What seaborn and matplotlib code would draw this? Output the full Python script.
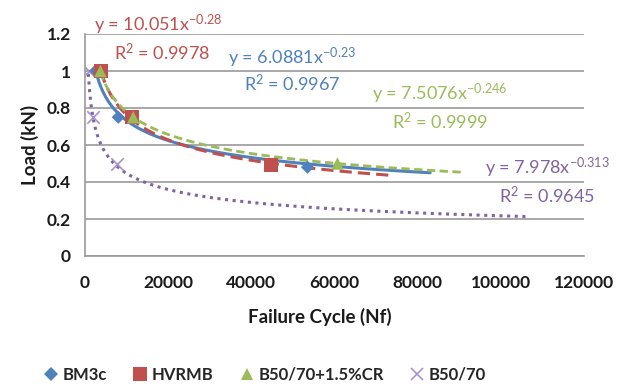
import numpy as np
import pandas as pd
import matplotlib
matplotlib.use("Agg")
import matplotlib.pyplot as plt
import seaborn as sns
from matplotlib.lines import Line2D

# ---- data ----
series = ["BM3c", "HVRMB", "B50/70+1.5%CR", "B50/70"]
bm3c_x = [2600, 8000, 53500]
bm3c_y = [1.0, 0.75, 0.48]
hvrmb_x = [3800, 11300, 44800]
hvrmb_y = [1.0, 0.75, 0.49]
cr_x = [3700, 11600, 60700]
cr_y = [1.0, 0.75, 0.50]
b50_x = [1000, 1900, 7700]
b50_y = [1.0, 0.75, 0.50]

# power trendlines y = a * x^b (coefficients shown on chart)
trend_a = [6.0881, 10.051, 7.5076, 7.978]
trend_b = [-0.23, -0.28, -0.246, -0.313]
trend_r2 = ["0.9967", "0.9978", "0.9999", "0.9645"]
trend_start = [2600, 3800, 3700, 800]
trend_end = [83000, 74000, 90800, 107000]

x_ticks = [0, 20000, 40000, 60000, 80000, 100000, 120000]
y_ticks = [0, 0.2, 0.4, 0.6, 0.8, 1.0, 1.2]

sns.set_theme(style="white")
plt.rcParams["font.family"] = ["Lato", "DejaVu Sans"]
plt.rcParams["mathtext.fontset"] = "custom"
plt.rcParams["mathtext.rm"] = "Lato"
plt.rcParams["mathtext.it"] = "Lato"
plt.rcParams["mathtext.bf"] = "Lato:bold"
plt.rcParams["mathtext.default"] = "regular"

colors = ["#4F81BD", "#C0504D", "#9BBB59", "#8064A2"]
marker_colors = ["#4F81BD", "#C0504D", "#9BBB59", "#A793CC"]
markers = ["D", "s", "^", "x"]
msizes = [45, 100, 80, 80]
styles = ["-", (0, (4, 2)), (0, (3, 1.6)), (0, (1, 1.5))]
widths = [2.2, 2.2, 2.0, 2.2]

fig = plt.figure(figsize=(6.18, 3.84), dpi=100)
ax = fig.add_axes([85/618, 1-256/384, (584-85)/618, (256-34)/384])

xs_list = [bm3c_x, hvrmb_x, cr_x, b50_x]
ys_list = [bm3c_y, hvrmb_y, cr_y, b50_y]

# trendlines
for i in range(4):
    xt = np.linspace(trend_start[i], trend_end[i], 300)
    yt = trend_a[i] * xt ** trend_b[i]
    sns.lineplot(x=xt, y=yt, ax=ax, color=colors[i], linewidth=widths[i],
                 linestyle=styles[i], zorder=3)

# points
for i in [3, 0, 1, 2]:
    df = pd.DataFrame({"x": xs_list[i], "y": ys_list[i]})
    if markers[i] == "x":
        sns.scatterplot(data=df, x="x", y="y", ax=ax, marker="x", s=msizes[i],
                        color=marker_colors[i], linewidth=1.2, zorder=4)
    else:
        sns.scatterplot(data=df, x="x", y="y", ax=ax, marker=markers[i], s=msizes[i],
                        color=marker_colors[i], edgecolor="none", zorder=4)

ax.set_xlim(0, 120000)
ax.set_ylim(0, 1.2)
ax.set_xticks(x_ticks)
ax.set_yticks(y_ticks)
ax.set_xticklabels([str(v) for v in x_ticks])
ax.set_yticklabels(["0", "0.2", "0.4", "0.6", "0.8", "1", "1.2"])
ax.yaxis.grid(True, color="#9A9A9A", linewidth=1.2)
ax.xaxis.grid(False)
for s in ["top", "right"]:
    ax.spines[s].set_visible(False)
for s in ["left", "bottom"]:
    ax.spines[s].set_color("#9A9A9A")
    ax.spines[s].set_linewidth(1.2)
ax.tick_params(axis="x", direction="out", length=5, color="#9A9A9A", width=1.2,
               labelsize=12.5, pad=9)
ax.tick_params(axis="y", direction="out", length=4, color="#9A9A9A", width=1.2,
               labelsize=12.5, pad=6)
for lab in ax.get_xticklabels() + ax.get_yticklabels():
    lab.set_fontweight("bold")
    lab.set_color("#1a1a1a")
ax.set_xlabel("")
ax.set_ylabel("")

fig.text(30/618, 1-145/384, "Load (kN)", rotation=90, ha="center", va="center",
         fontsize=13.5, fontweight="bold", color="#1a1a1a")
fig.text(320/618, 1-317/384, "Failure Cycle (Nf)", ha="center", va="center",
         fontsize=13.5, fontweight="bold", color="#1a1a1a")

# equation labels
eq_pos = [(292, 58, 292, 83), (158, 25, 162, 52), (440, 94, 440, 121), (547, 168, 547, 196)]
for i in range(4):
    ex, ey, rx, ry = eq_pos[i]
    bexp = f"{trend_b[i]:g}"
    fig.text(ex/618, 1-ey/384, f"y = {trend_a[i]:g}x$^{{{bexp}}}$", ha="center", va="center",
             fontsize=13, color=colors[i])
    fig.text(rx/618, 1-ry/384, f"R$^{{2}}$ = {trend_r2[i]}", ha="center", va="center",
             fontsize=13, color=colors[i])

handles = [Line2D([], [], linestyle="none", marker=markers[i], color=marker_colors[i],
                  markersize=[7, 10, 9, 9][i], markeredgewidth=(1.2 if markers[i] == "x" else 0))
           for i in range(4)]
fig.legend(handles, series, loc="center", bbox_to_anchor=(265/618, 1-375/384), ncol=4,
           frameon=False, handlelength=0.8, handletextpad=0.3, columnspacing=1.6,
           prop={"weight": "bold", "size": 12})

fig.savefig("out.png", dpi=100)
